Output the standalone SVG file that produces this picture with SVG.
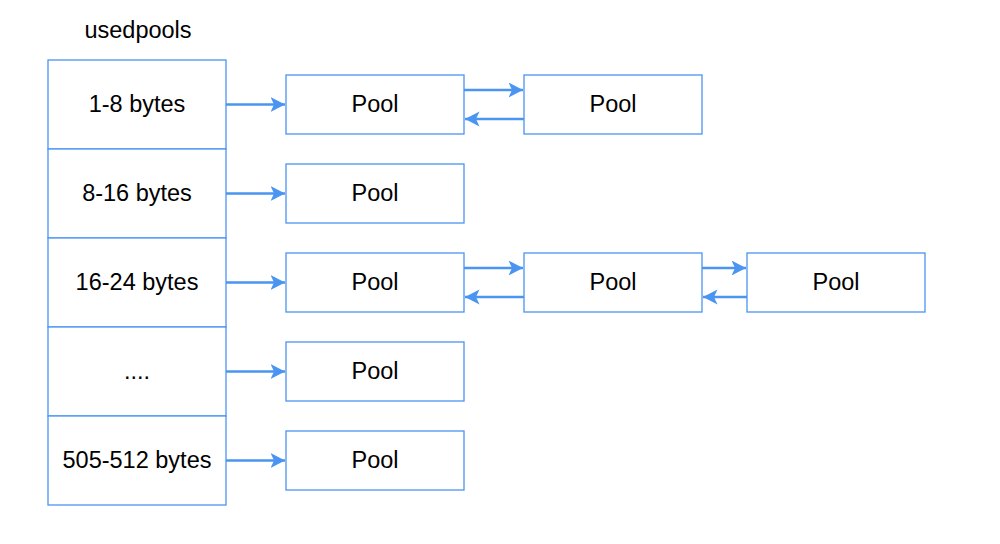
<svg xmlns="http://www.w3.org/2000/svg" width="1000" height="544" viewBox="0 0 1000 544">
<style>
.box{fill:#fff;stroke:#4a94f2;stroke-width:1.3}
.t{font-family:"Liberation Sans",Arial,sans-serif;font-size:23.5px;fill:#000;text-anchor:middle;dominant-baseline:central}
.c{stroke:#4a94f2;stroke-width:2.5;fill:none;marker-end:url(#ah)}
</style>
<defs>
<marker id="ah" markerUnits="userSpaceOnUse" markerWidth="16" markerHeight="16" refX="14.5" refY="8" orient="auto">
<path d="M0,0.5 L14.5,8 L0,15.5 L3.5,8 Z" fill="#4a94f2"/>
</marker>
</defs>
<text class="t" x="138" y="30">usedpools</text>
<g id="r1"><rect class="box" x="48" y="60" width="178" height="89"/><text class="t" x="137" y="103.5">1-8 bytes</text></g>
<g id="r2"><rect class="box" x="48" y="149" width="178" height="89"/><text class="t" x="137" y="192.5">8-16 bytes</text></g>
<g id="r3"><rect class="box" x="48" y="238" width="178" height="89"/><text class="t" x="137" y="281.5">16-24 bytes</text></g>
<g id="r4"><rect class="box" x="48" y="327" width="178" height="89"/><text class="t" x="137" y="370.5">....</text></g>
<g id="r5"><rect class="box" x="48" y="416" width="178" height="89"/><text class="t" x="137" y="459.5">505-512 bytes</text></g>
<g id="p1a"><rect class="box" x="286" y="75" width="178" height="59"/><text class="t" x="375" y="103.5">Pool</text></g>
<g id="p1b"><rect class="box" x="524" y="75" width="178" height="59"/><text class="t" x="613" y="103.5">Pool</text></g>
<g id="p2a"><rect class="box" x="286" y="164" width="178" height="59"/><text class="t" x="375" y="192.5">Pool</text></g>
<g id="p3a"><rect class="box" x="286" y="253" width="178" height="59"/><text class="t" x="375" y="281.5">Pool</text></g>
<g id="p3b"><rect class="box" x="524" y="253" width="178" height="59"/><text class="t" x="613" y="281.5">Pool</text></g>
<g id="p3c"><rect class="box" x="747" y="253" width="178" height="59"/><text class="t" x="836" y="281.5">Pool</text></g>
<g id="p4a"><rect class="box" x="286" y="342" width="178" height="59"/><text class="t" x="375" y="370.5">Pool</text></g>
<g id="p5a"><rect class="box" x="286" y="431" width="178" height="59"/><text class="t" x="375" y="459.5">Pool</text></g>
<g id="connectors">
<path class="c" d="M226,104.5 H285"/>
<path class="c" d="M226,193.5 H285"/>
<path class="c" d="M226,282.5 H285"/>
<path class="c" d="M226,371.5 H285"/>
<path class="c" d="M226,460.5 H285"/>
<path class="c" d="M464,90 H523"/>
<path class="c" d="M524,119 H465"/>
<path class="c" d="M464,268 H523"/>
<path class="c" d="M524,297 H465"/>
<path class="c" d="M702,268 H746"/>
<path class="c" d="M747,297 H703"/>
</g>
</svg>
